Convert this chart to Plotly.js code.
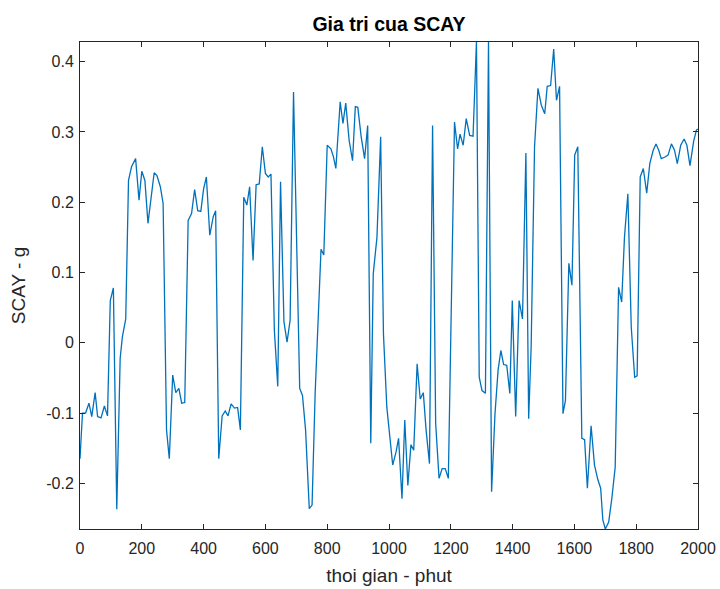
<!DOCTYPE html>
<html>
<head>
<meta charset="utf-8">
<script src="https://cdn.plot.ly/plotly-3.0.1.min.js"></script>
<style>html,body{margin:0;padding:0;background:#fff;}#chart{width:720px;height:589px;}</style>
</head>
<body>
<div id="chart"></div>
<script>
const timeMin = [0,8,18,29,38,49,57,68,79,89,98,108,119,130,137,148,157,167,180,191,200,210,220,231,240,249,260,269,280,289,300,310,320,329,339,350,361,371,381,391,400,409,420,431,439,449,460,470,479,489,500,510,519,530,540,549,560,570,580,590,600,609,618,629,640,649,660,670,680,691,711,720,730,742,751,761,771,780,789,800,812,820,828,842,851,860,871,882,891,899,910,921,931,941,949,961,973,982,993,1004,1012,1023,1031,1042,1051,1061,1071,1080,1091,1101,1111,1120,1131,1141,1151,1162,1172,1182,1192,1212,1222,1230,1240,1250,1261,1272,1283,1292,1301,1312,1322,1332,1343,1353,1362,1371,1381,1391,1399,1410,1421,1432,1443,1452,1460,1471,1482,1493,1504,1512,1523,1533,1542,1552,1563,1571,1582,1592,1601,1611,1624,1633,1642,1654,1665,1676,1685,1692,1700,1711,1721,1732,1743,1753,1762,1773,1784,1795,1803,1813,1823,1834,1844,1855,1864,1873,1881,1892,1903,1914,1924,1933,1944,1955,1964,1974,1986,1995,2000];
const scay = [-0.165,-0.100,-0.100,-0.086,-0.105,-0.071,-0.105,-0.107,-0.090,-0.104,0.060,0.078,-0.237,-0.022,0.008,0.034,0.231,0.251,0.262,0.203,0.244,0.231,0.170,0.212,0.242,0.238,0.222,0.198,-0.124,-0.165,-0.046,-0.071,-0.065,-0.086,-0.085,0.174,0.184,0.218,0.188,0.187,0.219,0.236,0.153,0.179,0.188,-0.165,-0.104,-0.097,-0.104,-0.087,-0.093,-0.092,-0.124,0.207,0.196,0.222,0.117,0.225,0.226,0.279,0.241,0.236,0.240,0.018,-0.062,0.229,0.030,0.001,0.032,0.357,-0.065,-0.075,-0.124,-0.236,-0.231,-0.072,0.051,0.133,0.125,0.281,0.276,0.265,0.248,0.343,0.312,0.341,0.288,0.259,0.336,0.335,0.293,0.262,0.309,-0.143,0.098,0.150,0.293,0.013,-0.092,-0.139,-0.174,-0.155,-0.136,-0.222,-0.110,-0.203,-0.145,-0.153,-0.030,-0.080,-0.071,-0.124,-0.172,0.309,-0.115,-0.193,-0.179,-0.179,-0.193,0.314,0.276,0.297,0.281,0.319,0.295,0.294,0.428,-0.049,-0.068,-0.072,0.428,-0.212,-0.101,-0.039,-0.011,-0.031,-0.032,-0.072,0.060,-0.105,0.060,0.034,0.270,-0.108,-0.006,0.279,0.362,0.338,0.326,0.365,0.366,0.418,0.345,0.365,-0.101,-0.082,0.113,0.082,0.267,0.279,-0.136,-0.138,-0.207,-0.118,-0.174,-0.195,-0.207,-0.252,-0.265,-0.255,-0.222,-0.177,0.079,0.058,0.150,0.212,0.022,-0.049,-0.047,0.236,0.248,0.213,0.255,0.274,0.283,0.274,0.262,0.264,0.267,0.283,0.274,0.255,0.281,0.290,0.281,0.252,0.287,0.303,0.304];
const xTickVals = [0,200,400,600,800,1000,1200,1400,1600,1800,2000];
const xTickText = ["0","200","400","600","800","1000","1200","1400","1600","1800","2000"];
const yTickVals = [-0.2,-0.1,0,0.1,0.2,0.3,0.4];
const yTickText = ["-0.2","-0.1","0","0.1","0.2","0.3","0.4"];
const chartTitle = "Gia tri cua SCAY";
const xLabel = "thoi gian - phut";
const yLabel = "SCAY - g";

const axisColor = "#262626";
const fontFam = "Liberation Sans, Arial, Helvetica, sans-serif";

const trace = {
  x: timeMin, y: scay, type: "scatter", mode: "lines",
  line: {color: "#0072BD", width: 1.3}, hoverinfo: "skip"
};
const layout = {
  width: 720, height: 589,
  margin: {l: 80, r: 22, t: 42, b: 60},
  paper_bgcolor: "#ffffff", plot_bgcolor: "#ffffff",
  showlegend: false,
  font: {family: fontFam, size: 16, color: axisColor},
  title: {text: "<b>" + chartTitle + "</b>", x: 0.5403, xanchor: "center", y: 0.959, yanchor: "middle",
          font: {family: fontFam, size: 19.5, color: "#000000"}},
  xaxis: {
    range: [0, 2000], tickvals: xTickVals, ticktext: xTickText,
    showline: true, linecolor: axisColor, linewidth: 1, mirror: "ticks",
    ticks: "inside", ticklen: 5, tickwidth: 1, tickcolor: axisColor,
    ticklabelstandoff: 5,
    showgrid: false, zeroline: false,
    tickfont: {family: fontFam, size: 16, color: axisColor},
    title: {text: xLabel, font: {family: fontFam, size: 19, color: axisColor}, standoff: 12}
  },
  yaxis: {
    range: [-0.265, 0.428], tickvals: yTickVals, ticktext: yTickText,
    showline: true, linecolor: axisColor, linewidth: 1, mirror: "ticks",
    ticks: "inside", ticklen: 5, tickwidth: 1, tickcolor: axisColor,
    ticklabelstandoff: 2,
    showgrid: false, zeroline: false,
    tickfont: {family: fontFam, size: 16, color: axisColor},
    title: {text: yLabel, font: {family: fontFam, size: 19, color: axisColor}, standoff: 15}
  }
};
Plotly.newPlot("chart", [trace], layout, {staticPlot: true, displayModeBar: false});
</script>
</body>
</html>
